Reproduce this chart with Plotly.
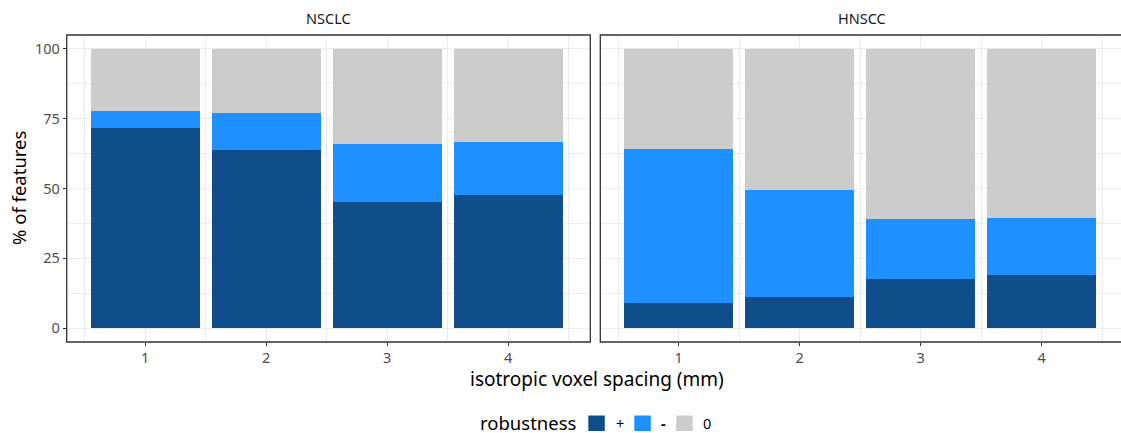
import plotly.graph_objects as go

spacing = [1, 2, 3, 4]
cohorts = ["NSCLC", "HNSCC"]
robustness_levels = ["+", "-", "0"]
colors = {"+": "#104E8B", "-": "#1E90FF", "0": "#CCCCCC"}

nsclc_plus = [71.7, 63.9, 45.3, 47.8]
nsclc_minus = [6.1, 13.2, 20.7, 18.9]
nsclc_zero = [22.2, 22.9, 34.0, 33.3]

hnscc_plus = [9.1, 11.3, 17.7, 19.1]
hnscc_minus = [55.1, 38.3, 21.5, 20.4]
hnscc_zero = [35.8, 50.4, 60.8, 60.5]

W, H = 1121, 433
FONT = "Noto Sans"
TICK_SIZE = 14.5
TITLE_SIZE = 18.5

def px(x):
    return x / W

def py(y):
    return 1 - y / H

fig = go.Figure()
data = {
    "NSCLC": {"+": nsclc_plus, "-": nsclc_minus, "0": nsclc_zero},
    "HNSCC": {"+": hnscc_plus, "-": hnscc_minus, "0": hnscc_zero},
}
for i, c in enumerate(cohorts):
    ax = "" if i == 0 else "2"
    for lvl in robustness_levels:
        fig.add_trace(go.Bar(
            x=spacing, y=data[c][lvl], width=0.9,
            marker=dict(color=colors[lvl], line=dict(width=0)),
            name=lvl, showlegend=False,
            xaxis="x" + ax, yaxis="y" + ax,
        ))

p1 = (66.7, 590.3)
p2 = (600.3, 1124.0)
ytop, ybot = 35, 342
unit = 121.0
x0 = 0.352

grid_major = "#EBEBEB"
common_x = dict(
    tickvals=spacing, ticktext=[str(s) for s in spacing],
    showgrid=True, gridcolor=grid_major, gridwidth=1.1,
    minor=dict(tick0=0.5, dtick=1, showgrid=True, gridcolor=grid_major, gridwidth=0.55, ticks=""),
    ticks="outside", ticklen=3, tickcolor="#333333", tickwidth=1.1,
    tickfont=dict(family=FONT, size=TICK_SIZE, color="#4D4D4D"),
    zeroline=False, showline=False, fixedrange=True,
)
common_y = dict(
    range=[-5, 105], tickvals=[0, 25, 50, 75, 100],
    showgrid=True, gridcolor=grid_major, gridwidth=1.1,
    minor=dict(tick0=0, dtick=12.5, showgrid=True, gridcolor=grid_major, gridwidth=0.55, ticks=""),
    zeroline=False, showline=False, fixedrange=True,
    domain=[py(ybot), py(ytop)],
)

fig.update_layout(
    width=W, height=H,
    margin=dict(l=0, r=0, t=0, b=0),
    plot_bgcolor="white", paper_bgcolor="white",
    barmode="stack", bargap=0,
    showlegend=False,
    font=dict(family=FONT),
    xaxis=dict(common_x, domain=[px(p1[0]), px(p1[1])],
               range=[x0, x0 + (p1[1] - p1[0]) / unit], anchor="y"),
    xaxis2=dict(common_x, domain=[px(p2[0]), 1.0],
                range=[x0, x0 + (W - p2[0]) / unit], anchor="y2"),
    yaxis=dict(common_y, anchor="x", ticks="outside", ticklen=3, tickcolor="#333333", tickwidth=1.1,
               tickfont=dict(family=FONT, size=TICK_SIZE, color="#4D4D4D")),
    yaxis2=dict(common_y, anchor="x2", showticklabels=False, ticks=""),
)

shapes = []
for (a, b) in (p1, p2):
    shapes.append(dict(type="rect", xref="paper", yref="paper",
                       x0=px(a), x1=px(b), y0=py(ybot), y1=py(ytop),
                       line=dict(color="#333333", width=1.3), fillcolor="rgba(0,0,0,0)", layer="above"))

# legend keys
legend_items = [("+", 588.3, 619.5), ("-", 634.3, 663.5), ("0", 676.2, 707.0)]
annotations = []
for lvl, kx, tx in legend_items:
    shapes.append(dict(type="rect", xref="paper", yref="paper",
                       x0=px(kx), x1=px(kx + 16.5), y0=py(431), y1=py(415.5),
                       line=dict(width=0), fillcolor=colors[lvl]))
    annotations.append(dict(text=("<b>-</b>" if lvl == "-" else lvl), x=px(tx), y=py(423), xref="paper", yref="paper",
                            showarrow=False, xanchor="center", yanchor="middle",
                            font=dict(family=FONT, size=TICK_SIZE, color="black")))
annotations.append(dict(text="robustness", x=px(579), y=py(422.5), xref="paper", yref="paper",
                        showarrow=False, xanchor="right", yanchor="middle",
                        font=dict(family=FONT, size=TITLE_SIZE, color="black")))
# strip labels
for c, (a, b) in zip(cohorts, (p1, p2)):
    annotations.append(dict(text=c, x=px((a + b) / 2), y=py(18), xref="paper", yref="paper",
                            showarrow=False, xanchor="center", yanchor="middle",
                            font=dict(family=FONT, size=TICK_SIZE, color="#1A1A1A")))
# axis titles
annotations.append(dict(text="isotropic voxel spacing (mm)", x=px(597), y=py(379), xref="paper", yref="paper",
                        showarrow=False, xanchor="center", yanchor="middle",
                        font=dict(family=FONT, size=19, color="black")))
annotations.append(dict(text="% of features", x=px(18), y=py(188), xref="paper", yref="paper",
                        showarrow=False, xanchor="center", yanchor="middle", textangle=-90,
                        font=dict(family=FONT, size=TITLE_SIZE, color="black")))

fig.update_layout(shapes=shapes, annotations=annotations)
fig.write_html("out.html", config={"displayModeBar": False},
               post_script="document.body.style.margin='0px';document.body.style.overflow='hidden';")
